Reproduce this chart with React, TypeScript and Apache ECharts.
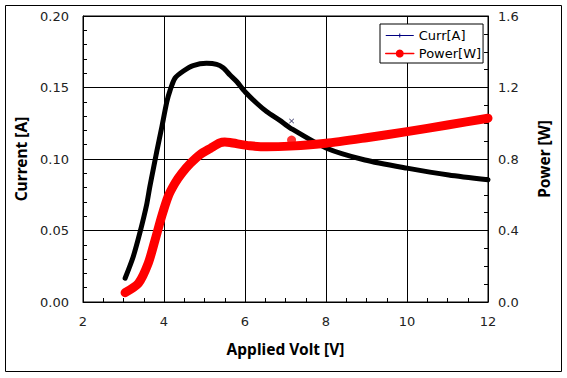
import React, { useEffect, useRef } from "react";
import * as echarts from "echarts";

// Applied voltage [V] and measured current [A]
const voltsI = [3.04, 3.24, 3.41, 3.57, 3.65, 3.74, 3.82, 3.94, 4.07, 4.15, 4.27, 4.48, 4.72, 5.05, 5.3, 5.46, 5.63, 5.8, 6.0, 6.29, 6.54, 6.86, 7.11, 8.0, 8.96, 10.0, 11.03, 12.0];
const currentA = [0.0166, 0.0317, 0.049, 0.0678, 0.0806, 0.0935, 0.105, 0.1215, 0.14, 0.148, 0.1565, 0.1615, 0.1653, 0.1669, 0.1662, 0.1638, 0.1587, 0.154, 0.147, 0.139, 0.133, 0.127, 0.1218, 0.1077, 0.0993, 0.0936, 0.0888, 0.0855];

// Applied voltage [V] and power [W]
const voltsP = [3.04, 3.37, 3.61, 3.78, 3.94, 4.1, 4.27, 4.44, 4.65, 4.89, 5.15, 5.38, 5.5, 5.63, 6.12, 6.54, 7.11, 8.0, 9.0, 10.0, 11.0, 12.0];
const powerW = [0.052, 0.105, 0.216, 0.347, 0.477, 0.589, 0.664, 0.72, 0.775, 0.825, 0.86, 0.89, 0.895, 0.892, 0.874, 0.868, 0.872, 0.888, 0.919, 0.953, 0.99, 1.028];

// single stray samples
const currentOutlier = [7.15, 0.1266];
const powerOutlier = [7.15, 0.906];

const currentName = "Curr[A]";
const powerName = "Power[W]";
const xTitle = "Applied Volt [V]";
const yLeftTitle = "Current [A]";
const yRightTitle = "Power [W]";

const FONT = "DejaVu Sans";
const TITLE_FONT = "Noto Sans";

export default function App() {
  const ref = useRef<HTMLDivElement>(null);
  useEffect(() => {
    document.body.style.margin = "0";
    const chart = echarts.init(ref.current!, null, { renderer: "svg" });
    const curData = voltsI.map((v, i) => [v, currentA[i]]);
    const powData = voltsP.map((v, i) => [v, powerW[i]]);
    const xIcon =
      "path://M0,0L0.01,0L0,0.01Z M27.99,10L28,10L28,9.99Z M0,4.5H28V5.5H0Z M13.5,3H14.5V7H13.5Z";
    const titleStyle = { fontFamily: TITLE_FONT, fontSize: 15.5, fontWeight: "bold", color: "#000" };
    chart.setOption({
      animation: false,
      backgroundColor: "#fff",
      grid: {
        left: 83,
        top: 16,
        width: 405,
        height: 286,
        show: true,
        borderColor: "#000",
        borderWidth: 1,
        backgroundColor: "transparent",
      },
      legend: {
        orient: "vertical",
        left: 380,
        top: 24,
        padding: [5, 2, 3, 5],
        itemWidth: 28,
        itemHeight: 10,
        itemGap: 5,
        borderColor: "#000",
        borderWidth: 1,
        borderRadius: 0,
        backgroundColor: "#fff",
        textStyle: { fontFamily: FONT, fontSize: 13, color: "#000" },
        data: [
          { name: currentName, icon: xIcon, itemStyle: { color: "#000080" } },
          {
            name: powerName,
            itemStyle: { color: "#ff0000" },
            lineStyle: { color: "#ff0000", width: 1.5 },
          },
        ],
      },
      xAxis: {
        type: "value",
        min: 2,
        max: 12,
        interval: 2,
        name: xTitle,
        nameLocation: "middle",
        nameGap: 39,
        nameTextStyle: titleStyle,
        axisLine: { lineStyle: { color: "#000", width: 1 } },
        axisTick: { show: true, inside: true, length: 4, lineStyle: { color: "#000" } },
        minorTick: { show: true, splitNumber: 4, length: 4, lineStyle: { color: "#000" } },
        axisLabel: { fontFamily: FONT, fontSize: 13, color: "#222", margin: 13 },
        splitLine: { show: true, lineStyle: { color: "#000", width: 1 } },
      },
      yAxis: [
        {
          type: "value",
          min: 0,
          max: 0.2,
          interval: 0.05,
          position: "left",
          name: yLeftTitle,
          nameLocation: "middle",
          nameGap: 52,
          nameTextStyle: titleStyle,
          axisLine: { show: true, lineStyle: { color: "#000", width: 1 } },
          axisTick: { show: true, inside: true, length: 4, lineStyle: { color: "#000" } },
          minorTick: { show: true, splitNumber: 5, length: 4, lineStyle: { color: "#000" } },
          axisLabel: {
            fontFamily: FONT,
            fontSize: 13,
            color: "#222",
            margin: 14,
            formatter: (v: number) => v.toFixed(2),
          },
          splitLine: { show: true, lineStyle: { color: "#000", width: 1 } },
        },
        {
          type: "value",
          min: 0,
          max: 1.6,
          interval: 0.4,
          position: "right",
          name: yRightTitle,
          nameLocation: "middle",
          nameGap: 48,
          nameTextStyle: titleStyle,
          axisLine: { show: true, lineStyle: { color: "#000", width: 1 } },
          axisTick: { show: true, inside: true, length: 4, lineStyle: { color: "#000" } },
          minorTick: { show: true, splitNumber: 4, length: 4, lineStyle: { color: "#000" } },
          axisLabel: {
            fontFamily: FONT,
            fontSize: 13,
            color: "#222",
            margin: 10,
            formatter: (v: number) => v.toFixed(1),
          },
          splitLine: { show: false },
        },
      ],
      series: [
        {
          name: currentName,
          type: "line",
          yAxisIndex: 0,
          data: curData,
          smooth: 0.25,
          symbol: "none",
          lineStyle: { color: "#000", width: 5, cap: "round", join: "round" },
          itemStyle: { color: "#000" },
        },
        {
          name: currentName,
          type: "scatter",
          yAxisIndex: 0,
          data: [currentOutlier],
          symbol: "path://M0,1L1,0L5,4L9,0L10,1L6,5L10,9L9,10L5,6L1,10L0,9L4,5Z",
          symbolSize: 5,
          itemStyle: { color: "#000040" },
        },
        {
          name: powerName,
          type: "line",
          yAxisIndex: 1,
          data: powData,
          smooth: 0.25,
          symbol: "circle",
          showSymbol: false,
          lineStyle: { color: "#ff0000", width: 9, cap: "round", join: "round" },
          itemStyle: { color: "#ff0000" },
        },
        {
          name: powerName,
          type: "scatter",
          yAxisIndex: 1,
          data: [powerOutlier],
          symbol: "circle",
          symbolSize: 9,
          itemStyle: { color: "#ff0000" },
        },
      ],
      graphic: [
        {
          type: "rect",
          shape: { x: 5.5, y: 5.5, width: 556, height: 366 },
          style: { fill: "none", stroke: "#000", lineWidth: 1 },
          silent: true,
          z: 100,
        },
      ],
    });
    return () => chart.dispose();
  }, []);
  return <div ref={ref} style={{ width: 567, height: 378 }} />;
}
